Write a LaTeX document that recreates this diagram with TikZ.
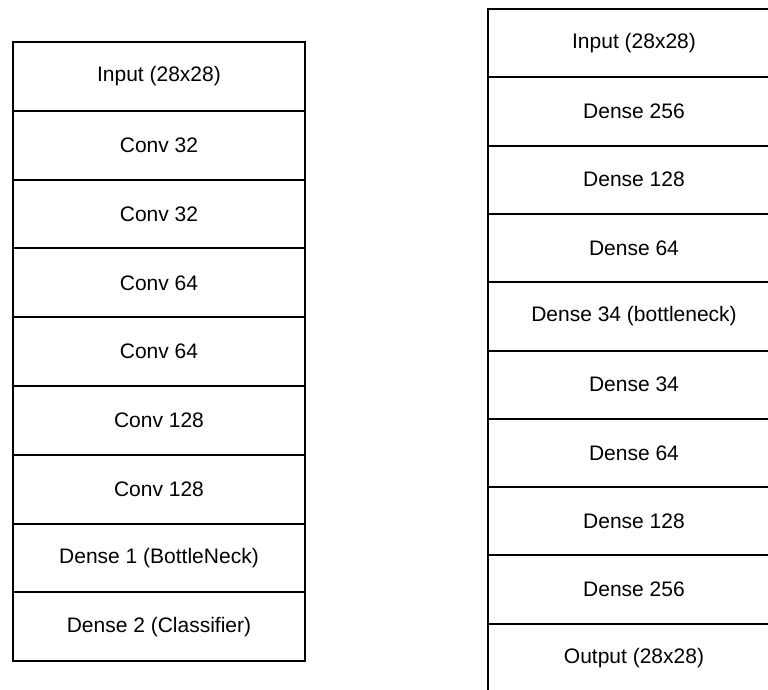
\documentclass[tikz,border=0pt]{standalone}
\usepackage{fontspec}
\setmainfont{Liberation Sans}
\begin{document}
\begin{tikzpicture}[x=1pt,y=-1pt,
  layer/.style={draw=black, line width=2pt, minimum width=292pt, minimum height=#1, inner sep=0pt, anchor=north west, font=\fontsize{21}{24}\selectfont},
  layer/.default=68.8pt]
\useasboundingbox (0,0) rectangle (768,689);
\clip (0,0) rectangle (768,689);
% left stack
\foreach \t [count=\i from 0] in {Input (28x28),Conv 32,Conv 32,Conv 64,Conv 64,Conv 128,Conv 128,Dense 1 (BottleNeck),Dense 2 (Classifier)}{
  \node[layer=68.8pt] (L\i) at (12,{41+68.8*\i}) {\t};
}
% right stack
\foreach \t [count=\i from 0] in {Input (28x28),Dense 256,Dense 128,Dense 64,Dense 34 (bottleneck),Dense 34,Dense 64,Dense 128,Dense 256,Output (28x28)}{
  \node[layer=68.3pt] (R\i) at (487,{8+68.3*\i}) {\t};
}
\end{tikzpicture}
\end{document}
